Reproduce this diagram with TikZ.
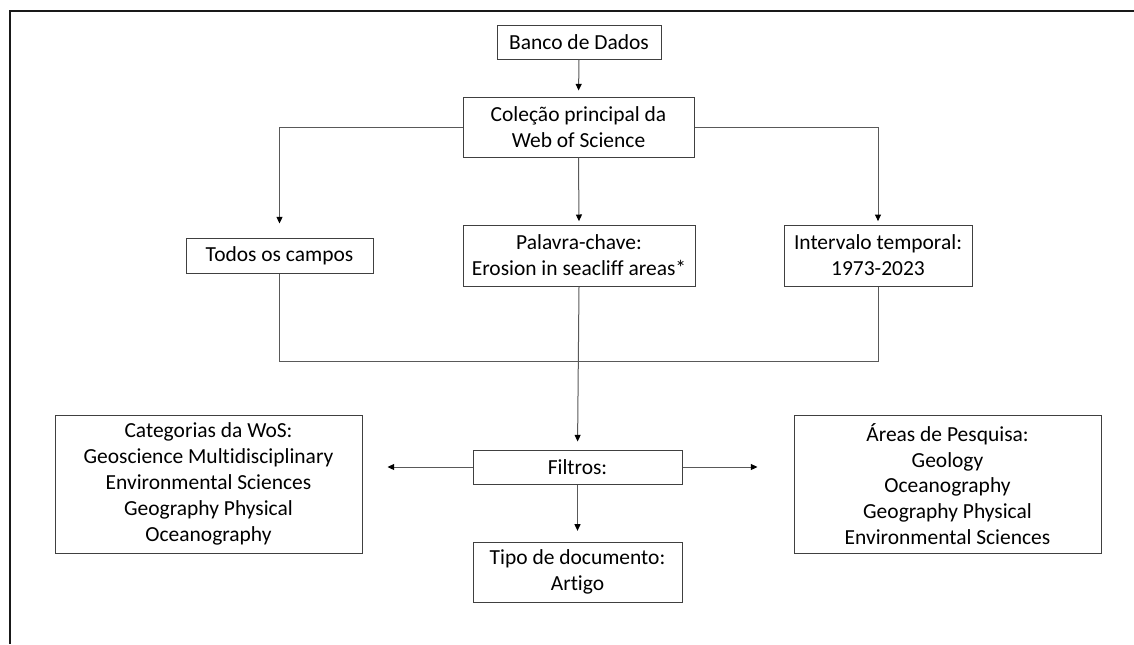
\documentclass[tikz,border=0pt]{standalone}
\usepackage{fontspec}
\setmainfont{Carlito}[Ligatures=NoCommon]
\usetikzlibrary{arrows.meta}
\begin{document}
\begin{tikzpicture}[x=0.75pt,y=-0.75pt,
  box/.style={draw=black!75, line width=0.75pt, align=center, inner sep=0pt,
    font=\fontsize{16.1pt}{19.4pt}\selectfont, fill=white},
  sz/.style 2 args={minimum width=#1*0.75pt, minimum height=#2*0.75pt},
  conn/.style={draw=black!65, line width=0.75pt},
  arr/.style={conn, -{Triangle[length=5pt,width=4.5pt,fill=black,color=black]}},
  frame/.style={draw=black!90, line width=1.6pt}]
\useasboundingbox (0,0) rectangle (1134,644);
\draw[frame] (1134,11) -- (10,11) -- (10,644);

\node[box, sz={164}{34}] (banco) at (579,42) {Banco de Dados};
\node[box, sz={231}{60}] (colecao) at (578.5,127) {Coleção principal da\\Web of Science};
\node[box, sz={187}{35}] (todos) at (279.5,255.5) {Todos os campos};
\node[box, sz={232}{61}] (palavra) at (579,255.5) {Palavra-chave:\\Erosion in seacliff areas*};
\node[box, sz={188}{61}] (intervalo) at (878,255.5) {Intervalo temporal:\\1973-2023};
\node[box, sz={209}{34}] (filtros) at (577.5,467) {Filtros:};
\node[box, sz={307}{138}] (cat) at (208.5,484) {Categorias da WoS:\\Geoscience Multidisciplinary\\Environmental Sciences\\Geography Physical\\Oceanography};
\node[box, sz={307}{138}] (areas) at (947.5,484) {Áreas de Pesquisa:\\Geology\\Oceanography\\Geography Physical\\Environmental Sciences};
\node[box, sz={209}{60}] (tipo) at (577.5,572) {Tipo de documento:\\Artigo};

\coordinate (join) at (579,361);

\draw[arr, shorten >=4.5pt] (banco.south) -- (colecao.north);
\draw[arr, shorten >=10.5pt] (colecao.west) -| (todos.north);
\draw[arr, shorten >=2.5pt] (colecao.east) -| (intervalo.north);
\draw[arr, shorten >=2.5pt] (colecao.south) -- (palavra.north);
\draw[conn] (todos.south) -- (todos.south |- join) -- (intervalo.south |- join) -- (intervalo.south);
\draw[arr, shorten >=6pt] (palavra.south) -- (filtros.north);
\draw[arr, shorten >=18.75pt] (filtros.west) -- (filtros.west -| cat.east);
\draw[arr, shorten >=27pt] (filtros.east) -- (filtros.east -| areas.west);
\draw[arr, shorten >=8pt] (filtros.south) -- (tipo.north);
\end{tikzpicture}
\end{document}
